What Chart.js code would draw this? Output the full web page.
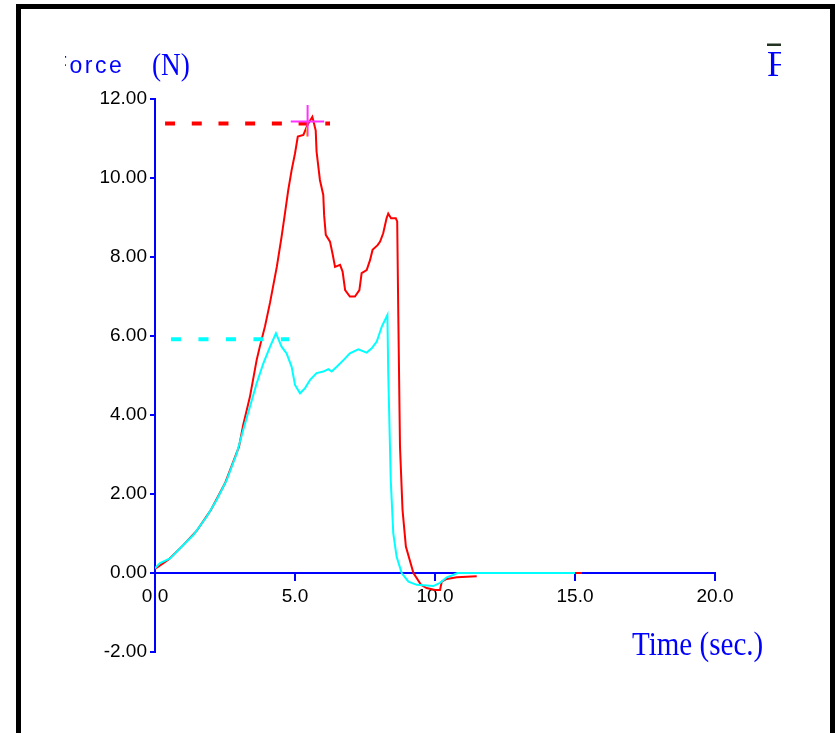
<!DOCTYPE html>
<html>
<head>
<meta charset="utf-8">
<script src="https://cdn.jsdelivr.net/npm/chart.js@4.4.1/dist/chart.umd.min.js"></script>
<style>
  html, body { margin: 0; padding: 0; background: #fff; overflow: hidden; width: 835px; height: 733px; }
  #wrap { position: relative; width: 835px; height: 733px; }
  #frame { position: absolute; left: 16px; top: 4px; width: 809px; height: 760px; border: 5px solid #000; box-sizing: content-box; pointer-events: none; }
  canvas { position: absolute; left: 0; top: 0; }
</style>
</head>
<body>
<div id="wrap">
  <canvas id="c" width="835" height="733"></canvas>
  <div id="frame"></div>
</div>
<script>
// ---- Data ----
const redTime  = [0, 0.5, 1.0, 1.5, 2.0, 2.5, 3.0, 3.15, 3.39, 3.63, 3.75, 3.93, 4.11, 4.35, 4.52, 4.64, 4.76, 4.88, 5.00, 5.10, 5.30, 5.45, 5.62, 5.74, 5.77, 5.89, 6.01, 6.04, 6.10, 6.25, 6.35, 6.43, 6.61, 6.70, 6.79, 6.96, 7.14, 7.30, 7.38, 7.56, 7.68, 7.77, 7.95, 8.04, 8.15, 8.27, 8.33, 8.43, 8.60, 8.65, 8.69, 8.75, 8.84, 8.96, 9.23, 9.50, 9.70, 10.00, 10.18, 10.24, 10.42, 10.78, 11.49];
const redForce = [0.10, 0.35, 0.70, 1.08, 1.60, 2.27, 3.20, 3.75, 4.46, 5.39, 5.75, 6.25, 6.85, 7.75, 8.51, 9.10, 9.70, 10.20, 10.62, 11.05, 11.09, 11.35, 11.55, 11.20, 10.67, 9.95, 9.57, 9.06, 8.56, 8.39, 8.05, 7.75, 7.80, 7.63, 7.16, 7.00, 7.00, 7.16, 7.59, 7.67, 7.92, 8.18, 8.30, 8.39, 8.60, 8.98, 9.10, 8.98, 8.98, 8.90, 6.49, 3.20, 1.60, 0.67, 0.00, -0.30, -0.38, -0.43, -0.43, -0.22, -0.15, -0.11, -0.08];
const redTailTime  = [11.6, 15.25];
const redTailForce = [0.0, 0.0];

const cyanTime  = [0, 0.18, 0.54, 0.89, 1.37, 1.85, 2.20, 2.56, 2.92, 3.15, 3.39, 3.63, 3.87, 4.11, 4.32, 4.52, 4.70, 4.88, 5.00, 5.18, 5.36, 5.54, 5.77, 6.01, 6.19, 6.31, 6.49, 6.73, 6.96, 7.26, 7.56, 7.74, 7.92, 8.10, 8.30, 8.33, 8.42, 8.51, 8.63, 8.81, 9.05, 9.35, 9.94, 10.18, 10.42, 10.65, 10.80, 15.0];
const cyanForce = [0.12, 0.25, 0.37, 0.62, 0.96, 1.43, 1.85, 2.35, 3.03, 3.62, 4.21, 4.80, 5.31, 5.73, 6.07, 5.73, 5.56, 5.22, 4.76, 4.55, 4.68, 4.89, 5.06, 5.10, 5.16, 5.10, 5.22, 5.39, 5.56, 5.66, 5.58, 5.69, 5.86, 6.24, 6.53, 5.06, 2.35, 1.00, 0.41, 0.00, -0.22, -0.30, -0.33, -0.25, -0.11, -0.05, 0.00, 0.00];

const redPeakLineTime  = [0.36, 6.25];
const redPeakLineForce = [11.38, 11.38];
const cyanPeakLineTime  = [0.57, 4.79];
const cyanPeakLineForce = [5.92, 5.92];

const crossHTime  = [4.85, 6.04];
const crossHForce = [11.43, 11.43];
const crossVTime  = [5.45, 5.45];
const crossVForce = [11.85, 11.05];
const markTime  = [5.43, 5.43];
const markForce = [11.05, 11.28];

const xTicks = [0, 5, 10, 15, 20];
const yTicks = [-2, 0, 2, 4, 6, 8, 10, 12];

const yLabel = "Force";
const yUnit = "(N)";
const xLabel = "Time (sec.)";
const cornerLabel = "F";

function pts(xs, ys) { return xs.map((x, i) => ({ x: x, y: ys[i] })); }

const BLUE = '#0000ff';
const tickFont = { family: "'Liberation Sans', Arial, sans-serif", size: 19 };

const textPlugin = {
  id: 'texts',
  afterDraw(chart) {
    const ctx = chart.ctx;
    ctx.save();
    ctx.fillStyle = BLUE;
    ctx.textBaseline = 'alphabetic';
    // y-axis title, left part clipped like the reference
    ctx.save();
    ctx.beginPath();
    ctx.rect(65, 30, 80, 60);
    ctx.clip();
    ctx.font = "23px 'Liberation Sans', Arial, sans-serif";
    if ('letterSpacing' in ctx) ctx.letterSpacing = '2.5px';
    ctx.fillText(yLabel, 53, 73);
    ctx.restore();
    ctx.save();
    ctx.translate(152, 75);
    ctx.scale(0.88, 1);
    ctx.font = "31px 'Liberation Serif', 'Times New Roman', serif";
    ctx.fillText(yUnit, 0, 0);
    ctx.restore();
    // x-axis title (condensed serif)
    ctx.save();
    ctx.translate(632, 655);
    ctx.scale(0.88, 1);
    ctx.font = "33px 'Liberation Serif', 'Times New Roman', serif";
    ctx.fillText(xLabel, 0, 0);
    ctx.restore();
    // corner symbol with overbar, clipped at right
    ctx.save();
    ctx.beginPath();
    ctx.rect(740, 30, 41, 60);
    ctx.clip();
    ctx.font = "35px 'Liberation Serif', 'Times New Roman', serif";
    ctx.fillText(cornerLabel, 767, 76);
    ctx.fillStyle = '#223322';
    ctx.fillRect(767, 43.5, 14, 2.5);
    ctx.restore();
    ctx.restore();
  }
};

new Chart(document.getElementById('c'), {
  type: 'line',
  data: {
    datasets: [
      { data: pts(crossHTime, crossHForce), borderColor: '#ff33ff', borderWidth: 2, pointRadius: 0, order: 0 },
      { data: pts(crossVTime, crossVForce), borderColor: '#ff33ff', borderWidth: 2, pointRadius: 0, order: 0 },
      { data: pts(markTime, markForce), borderColor: '#ffff00', borderWidth: 2, pointRadius: 0, order: 0 },
      { data: pts(cyanTime, cyanForce), borderColor: '#00ffff', borderWidth: 2, pointRadius: 0, order: 1 },
      { data: pts(redTime, redForce), borderColor: '#ff0000', borderWidth: 2, pointRadius: 0, order: 2 },
      { data: pts(redTailTime, redTailForce), borderColor: '#ff0000', borderWidth: 2, pointRadius: 0, order: 3 },
      { data: pts(redPeakLineTime, redPeakLineForce), borderColor: '#ff0000', borderWidth: 4, borderDash: [10, 16.7], pointRadius: 0, order: 1.5 },
      { data: pts(cyanPeakLineTime, cyanPeakLineForce), borderColor: '#00ffff', borderWidth: 4, borderDash: [10, 17.5], pointRadius: 0, order: 1.5 }
    ]
  },
  options: {
    responsive: false,
    animation: false,
    devicePixelRatio: 1,
    layout: { padding: { left: 0, right: 120, top: 99, bottom: 81 } },
    plugins: { legend: { display: false }, tooltip: { enabled: false }, title: { display: false } },
    elements: { line: { tension: 0, borderCapStyle: 'butt' } },
    scales: {
      x: {
        type: 'linear',
        position: { y: 0 },
        min: 0, max: 20,
        afterFit(scale) { scale.height = 0; },
        afterBuildTicks(scale) { scale.ticks = xTicks.map(v => ({ value: v })); },
        ticks: { color: '#000', font: tickFont, padding: 5, maxRotation: 0, callback: v => Number(v).toFixed(1) },
        grid: { drawOnChartArea: false, drawTicks: true, tickLength: 7, color: BLUE, lineWidth: 2 },
        border: { display: true, color: BLUE, width: 2 }
      },
      y: {
        type: 'linear',
        position: 'left',
        min: -2, max: 12,
        afterFit(scale) { scale.width = 155; },
        afterBuildTicks(scale) { scale.ticks = yTicks.map(v => ({ value: v })); },
        ticks: { color: '#000', font: tickFont, padding: 3, callback: v => Number(v).toFixed(2) },
        grid: { drawOnChartArea: false, drawTicks: true, tickLength: 5, color: BLUE, lineWidth: 2 },
        border: { display: true, color: BLUE, width: 2 }
      }
    }
  },
  plugins: [textPlugin]
});
</script>
</body>
</html>
